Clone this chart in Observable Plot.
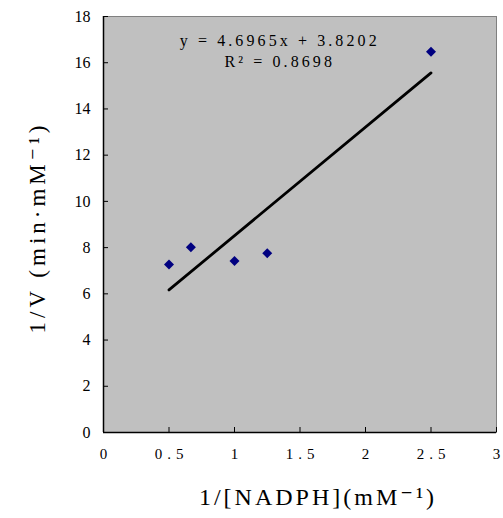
<!DOCTYPE html>
<html>
<head>
<meta charset="utf-8">
<script src="https://cdn.jsdelivr.net/npm/d3@7"></script>
<script src="https://cdn.jsdelivr.net/npm/@observablehq/plot@0.6"></script>
<style>
  html, body { margin: 0; padding: 0; background: #fff; }
  svg { display: block; }
  g[aria-description="eq"] text { letter-spacing: 3.1px; }
  g[aria-description="ylabel"] text { letter-spacing: 4px; }
  g[aria-description="xlabel"] text { letter-spacing: 3px; }
</style>
</head>
<body>
<div id="chart"></div>
<script>
// Data
const invNADPH = [0.5, 0.667, 1.0, 1.25, 2.5];
const invV = [7.27, 8.02, 7.42, 7.76, 16.47];
const slope = 4.6965;
const intercept = 3.8202;
const r2 = 0.8698;
const fitX = [0.5, 2.5];
const xTicks = [0, 0.5, 1, 1.5, 2, 2.5, 3];
const yTicks = [0, 2, 4, 6, 8, 10, 12, 14, 16, 18];
const xLabel = "1/[NADPH](mM⁻¹)";
const yLabel = "1/V (min·mM⁻¹)";

const points = invNADPH.map((x, i) => ({x, y: invV[i]}));
const fit = fitX.map(x => ({x, y: slope * x + intercept}));
const eqText = [`y = ${slope}x + ${intercept}\nR² = ${r2}`];

const font = "'Liberation Serif', 'DejaVu Serif', serif";

const chart = Plot.plot({
  width: 503,
  height: 518,
  marginLeft: 103,
  marginRight: 7,
  marginTop: 16,
  marginBottom: 86,
  style: {fontFamily: font, background: "#fff", color: "#000"},
  x: {domain: [0, 3], ticks: xTicks},
  y: {domain: [0, 18], ticks: yTicks},
  marks: [
    Plot.frame({fill: "#c0c0c0", stroke: "#808080"}),
    Plot.axisX(xTicks, {tickSize: -5, tickPadding: 21, fontSize: 15, label: null, text: null}),
    Plot.axisX(xTicks, {tickSize: 0, tickPadding: 16, fontSize: 15, label: null, tickFormat: d => String(d)}),
    Plot.axisY(yTicks, {tickSize: -5, tickPadding: 18, fontSize: 16, label: null}),
    Plot.ruleX([0], {stroke: "#000", strokeWidth: 1.5}),
    Plot.ruleY([0], {stroke: "#000", strokeWidth: 1.5}),
    Plot.line(fit, {x: "x", y: "y", stroke: "#000", strokeWidth: 2.8}),
    Plot.dot(points, {x: "x", y: "y", symbol: "diamond2", r: 4.5, fill: "#000080", stroke: "none"}),
    Plot.text(eqText, {x: () => 1.33, y: () => 16.55, dx: 2, fontSize: 16, lineHeight: 1.3, fill: "#000", ariaDescription: "eq"}),
    Plot.text([yLabel], {frameAnchor: "left", textAnchor: "middle", dx: -66, dy: 3, rotate: -90, fontSize: 23, fill: "#000", ariaDescription: "ylabel"}),
    Plot.text([xLabel], {frameAnchor: "bottom", dy: 72, dx: 18, fontSize: 24, fill: "#000", ariaDescription: "xlabel"})
  ]
});
// widen the decimal tick labels like the original's wide-spaced font
d3.select(chart).selectAll('g[aria-label="x-axis tick label"] text')
  .filter(function() { return this.textContent.includes("."); })
  .attr("letter-spacing", "5px")
  .attr("dx", 2.5);
document.getElementById("chart").appendChild(chart);
</script>
</body>
</html>
